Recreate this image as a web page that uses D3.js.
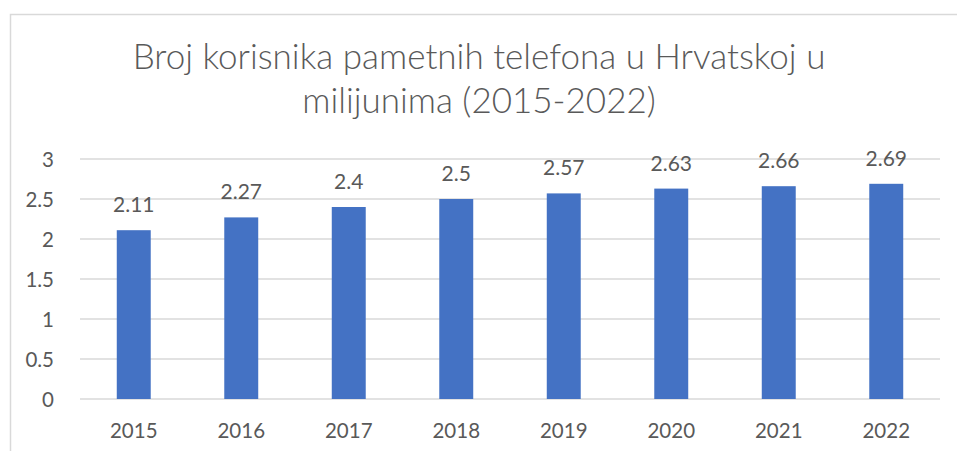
<!DOCTYPE html>
<html>
<head>
<meta charset="utf-8">
<script src="https://cdn.jsdelivr.net/npm/d3@7"></script>
<style>
  body { margin: 0; background: #fff; }
  svg text { font-family: "Lato", "Noto Sans", sans-serif; fill: #595959; }
</style>
</head>
<body>
<div id="chart"></div>
<script>
// podaci
var years = ["2015", "2016", "2017", "2018", "2019", "2020", "2021", "2022"];
var users = [2.11, 2.27, 2.4, 2.5, 2.57, 2.63, 2.66, 2.69];
var yTicks = [0, 0.5, 1, 1.5, 2, 2.5, 3];
var titleLines = ["Broj korisnika pametnih telefona u Hrvatskoj u", "milijunima (2015-2022)"];

var width = 957, height = 451;
var margin = {top: 159, right: 17, bottom: 52, left: 80};

var svg = d3.select("#chart").append("svg")
  .attr("width", width)
  .attr("height", height);

// okvir grafikona
svg.append("rect")
  .attr("x", 10.5).attr("y", 14.5)
  .attr("width", width + 20).attr("height", height + 20)
  .attr("fill", "none")
  .attr("stroke", "#D9D9D9")
  .attr("stroke-width", 1.5);

var x = d3.scaleBand().domain(years)
  .range([margin.left, width - margin.right])
  .paddingInner(0.684).paddingOuter(0.342);
var y = d3.scaleLinear().domain([0, 3])
  .range([height - margin.bottom, margin.top]);

// mreza
svg.append("g")
  .selectAll("line").data(yTicks).enter().append("line")
  .attr("x1", margin.left).attr("x2", width - margin.right)
  .attr("y1", function(d) { return y(d); })
  .attr("y2", function(d) { return y(d); })
  .attr("stroke", "#D9D9D9").attr("stroke-width", 1.3);

// y os
var yAxis = svg.append("g")
  .attr("transform", "translate(" + (margin.left - 23) + ",0)")
  .call(d3.axisLeft(y).tickValues(yTicks).tickSize(0).tickFormat(d3.format("")));
yAxis.select(".domain").remove();
yAxis.selectAll("text").attr("font-size", 20.5).attr("fill", "#595959").attr("dy", "0.35em");

// x os
var xAxis = svg.append("g")
  .attr("transform", "translate(0," + (height - margin.bottom) + ")")
  .call(d3.axisBottom(x).tickSize(0));
xAxis.select(".domain").remove();
xAxis.selectAll("text").attr("font-size", 20.5).attr("fill", "#595959").attr("dy", "1.75em");

// stupci
svg.append("g").selectAll("rect").data(users).enter().append("rect")
  .attr("x", function(d, i) { return x(years[i]); })
  .attr("y", function(d) { return y(d); })
  .attr("width", x.bandwidth())
  .attr("height", function(d) { return y(0) - y(d); })
  .attr("fill", "#4472C4");

// oznake vrijednosti
svg.append("g").selectAll("text").data(users).enter().append("text")
  .attr("x", function(d, i) { return x(years[i]) + x.bandwidth() / 2; })
  .attr("y", function(d) { return y(d) - 18; })
  .attr("text-anchor", "middle")
  .attr("font-size", 21)
  .text(function(d) { return d; });

// naslov
svg.append("g").selectAll("text").data(titleLines).enter().append("text")
  .attr("x", 479)
  .attr("y", function(d, i) { return 69 + i * 44; })
  .attr("text-anchor", "middle")
  .attr("font-size", 35)
  .style("font-weight", 300)
  .text(function(d) { return d; });
</script>
</body>
</html>
